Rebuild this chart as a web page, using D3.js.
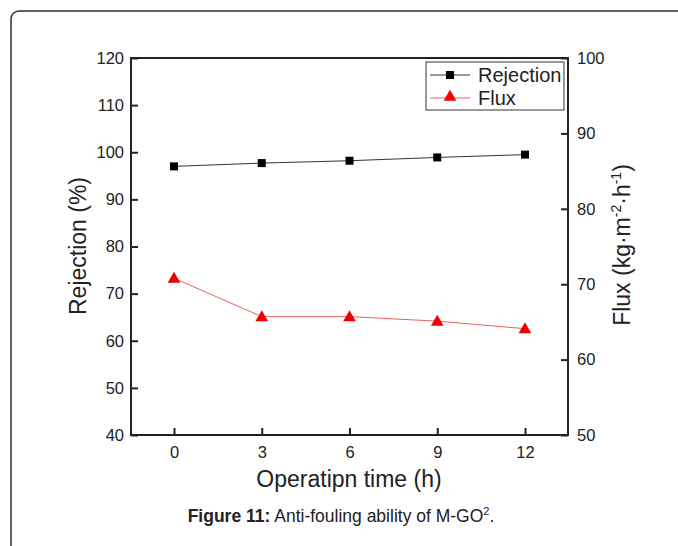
<!DOCTYPE html>
<html>
<head>
<meta charset="utf-8">
<script src="https://cdn.jsdelivr.net/npm/d3@7"></script>
<style>
  body { margin: 0; background: #fff; }
  text { font-family: "Liberation Sans", Arial, sans-serif; fill: #222; }
</style>
</head>
<body>
<script>
var hours = [0, 3, 6, 9, 12];
var rejection = [97.0, 97.7, 98.2, 98.9, 99.5];
var flux = [70.8, 65.7, 65.7, 65.1, 64.1];
var xTicks = [0, 3, 6, 9, 12];
var leftTicks = [40, 50, 60, 70, 80, 90, 100, 110, 120];
var rightTicks = [50, 60, 70, 80, 90, 100];

var width = 678, height = 546;
var plot = { left: 131, right: 568, top: 58, bottom: 435 };

var svg = d3.select('body').append('svg')
  .attr('width', width)
  .attr('height', height);

// outer frame, runs off the page on the right and bottom
svg.append('rect')
  .attr('x', 11).attr('y', 11)
  .attr('width', 700).attr('height', 600)
  .attr('rx', 8)
  .attr('fill', 'none')
  .attr('stroke', '#333')
  .attr('stroke-width', 1.5);

var x = d3.scaleLinear().domain([-1.47, 13.47]).range([plot.left, plot.right]);
var yL = d3.scaleLinear().domain([40, 120]).range([plot.bottom, plot.top]);
var yR = d3.scaleLinear().domain([50, 100]).range([plot.bottom, plot.top]);

function styleAxis(g) {
  g.selectAll('.domain').remove();
  g.selectAll('.tick line').attr('stroke', '#222').attr('stroke-width', 2);
  g.selectAll('.tick text').style('font-size', '16.5px').attr('fill', '#222');
}

svg.append('g')
  .attr('transform', 'translate(0,' + plot.bottom + ')')
  .call(d3.axisBottom(x).tickValues(xTicks).tickSizeInner(-7).tickPadding(11))
  .call(styleAxis);

svg.append('g')
  .attr('transform', 'translate(' + plot.left + ',0)')
  .call(d3.axisLeft(yL).tickValues(leftTicks).tickSizeInner(-7).tickPadding(7))
  .call(styleAxis);

svg.append('g')
  .attr('transform', 'translate(' + plot.right + ',0)')
  .call(d3.axisRight(yR).tickValues(rightTicks).tickSizeInner(-7).tickPadding(9))
  .call(styleAxis);

// plot border
svg.append('rect')
  .attr('x', plot.left).attr('y', plot.top)
  .attr('width', plot.right - plot.left).attr('height', plot.bottom - plot.top)
  .attr('fill', 'none').attr('stroke', '#222').attr('stroke-width', 2);

// series
var rejData = hours.map(function(h, i) { return [h, rejection[i]]; });
var fluxData = hours.map(function(h, i) { return [h, flux[i]]; });

svg.append('path')
  .datum(rejData)
  .attr('fill', 'none').attr('stroke', '#333').attr('stroke-width', 1)
  .attr('d', d3.line().x(function(d) { return x(d[0]); }).y(function(d) { return yL(d[1]); }));

svg.selectAll('.rej').data(rejData).enter().append('rect')
  .attr('class', 'rej')
  .attr('x', function(d) { return x(d[0]) - 4; })
  .attr('y', function(d) { return yL(d[1]) - 4; })
  .attr('width', 8).attr('height', 8)
  .attr('fill', '#000');

svg.append('path')
  .datum(fluxData)
  .attr('fill', 'none').attr('stroke', '#e86060').attr('stroke-width', 1)
  .attr('d', d3.line().x(function(d) { return x(d[0]); }).y(function(d) { return yR(d[1]); }));

var tri = d3.symbol().type(d3.symbolTriangle).size(70);
svg.selectAll('.flux').data(fluxData).enter().append('path')
  .attr('class', 'flux')
  .attr('transform', function(d) { return 'translate(' + x(d[0]) + ',' + (yR(d[1]) + 1) + ')'; })
  .attr('d', tri)
  .attr('fill', '#ee0000');

// legend
var legend = svg.append('g').attr('transform', 'translate(426,62)');
legend.append('rect')
  .attr('width', 138).attr('height', 48)
  .attr('fill', '#fff').attr('stroke', '#555').attr('stroke-width', 1.2);

var items = [
  { name: 'Rejection', color: '#333', mark: 'square', y: 13 },
  { name: 'Flux', color: '#e86060', mark: 'tri', y: 36 }
];
items.forEach(function(it) {
  legend.append('line')
    .attr('x1', 4).attr('x2', 44).attr('y1', it.y).attr('y2', it.y)
    .attr('stroke', it.color).attr('stroke-width', 1);
  if (it.mark === 'square') {
    legend.append('rect').attr('x', 20).attr('y', it.y - 4).attr('width', 8).attr('height', 8).attr('fill', '#000');
  } else {
    legend.append('path').attr('transform', 'translate(24,' + (it.y - 1) + ')').attr('d', tri).attr('fill', '#ee0000');
  }
  legend.append('text')
    .attr('x', 52).attr('y', it.y + 7)
    .style('font-size', '20px')
    .text(it.name);
});

// axis titles
svg.append('text')
  .attr('transform', 'translate(86,246) rotate(-90)')
  .attr('text-anchor', 'middle')
  .style('font-size', '23px')
  .text('Rejection (%)');

var rt = svg.append('text')
  .attr('transform', 'translate(630,245) rotate(-90)')
  .attr('text-anchor', 'middle')
  .style('font-size', '23px');
rt.append('tspan').text('Flux (kg\u00b7m');
rt.append('tspan').attr('dy', -9).style('font-size', '14px').text('-2');
rt.append('tspan').attr('dy', 9).text('\u00b7h');
rt.append('tspan').attr('dy', -9).style('font-size', '14px').text('-1');
rt.append('tspan').attr('dy', 9).text(')');

svg.append('text')
  .attr('x', 349).attr('y', 487)
  .attr('text-anchor', 'middle')
  .style('font-size', '23px')
  .text('Operatipn time (h)');

// caption
var cap = svg.append('text')
  .attr('x', 341).attr('y', 522)
  .attr('text-anchor', 'middle')
  .style('font-size', '17.5px');
cap.append('tspan').style('font-weight', 'bold').text('Figure 11:');
cap.append('tspan').text(' Anti-fouling ability of M-GO');
cap.append('tspan').attr('dy', -7).style('font-size', '11px').text('2');
cap.append('tspan').attr('dy', 7).text('.');
</script>
</body>
</html>
